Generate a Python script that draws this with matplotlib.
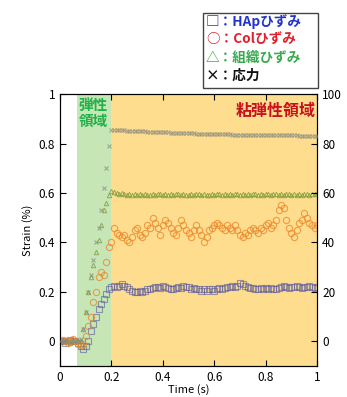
import matplotlib
matplotlib.use("Agg")
import matplotlib.pyplot as plt
from matplotlib.patches import Rectangle

plt.rcParams['font.family'] = ['Noto Sans CJK JP', 'DejaVu Sans']

# sample times (s)
time = [0.00, 0.01, 0.02, 0.03, 0.04, 0.05, 0.06, 0.07, 0.08, 0.09,
        0.10, 0.11, 0.12, 0.13, 0.14, 0.15, 0.16, 0.17, 0.18, 0.19,
        0.20, 0.21, 0.22, 0.23, 0.24, 0.25, 0.26, 0.27, 0.28, 0.29,
        0.30, 0.31, 0.32, 0.33, 0.34, 0.35, 0.36, 0.37, 0.38, 0.39,
        0.40, 0.41, 0.42, 0.43, 0.44, 0.45, 0.46, 0.47, 0.48, 0.49,
        0.50, 0.51, 0.52, 0.53, 0.54, 0.55, 0.56, 0.57, 0.58, 0.59,
        0.60, 0.61, 0.62, 0.63, 0.64, 0.65, 0.66, 0.67, 0.68, 0.69,
        0.70, 0.71, 0.72, 0.73, 0.74, 0.75, 0.76, 0.77, 0.78, 0.79,
        0.80, 0.81, 0.82, 0.83, 0.84, 0.85, 0.86, 0.87, 0.88, 0.89,
        0.90, 0.91, 0.92, 0.93, 0.94, 0.95, 0.96, 0.97, 0.98, 0.99,
        1.00]

# HAp strain (%)
hap_strain = [0.0, 0.0, -0.005, 0.0, 0.005, 0.0, 0.0, -0.005, -0.02, -0.03,
              -0.02, 0.0, 0.04, 0.07, 0.10, 0.13, 0.15, 0.17, 0.19, 0.21,
              0.22, 0.225, 0.22, 0.225, 0.23, 0.225, 0.22, 0.21, 0.205, 0.20,
              0.20, 0.205, 0.20, 0.205, 0.21, 0.21, 0.215, 0.22, 0.22, 0.215,
              0.225, 0.22, 0.215, 0.21, 0.21, 0.215, 0.22, 0.215, 0.225, 0.22,
              0.22, 0.21, 0.215, 0.21, 0.21, 0.205, 0.21, 0.205, 0.21, 0.21,
              0.205, 0.21, 0.215, 0.21, 0.215, 0.22, 0.22, 0.225, 0.22, 0.225,
              0.235, 0.23, 0.225, 0.22, 0.215, 0.215, 0.21, 0.21, 0.215, 0.21,
              0.215, 0.21, 0.215, 0.21, 0.21, 0.215, 0.22, 0.225, 0.22, 0.215,
              0.22, 0.22, 0.225, 0.22, 0.215, 0.22, 0.22, 0.225, 0.22, 0.215,
              0.22]

# Col strain (%)
col_strain = [0.0, 0.005, 0.0, -0.005, 0.0, 0.01, 0.0, -0.01, -0.015, -0.01,
              0.02, 0.06, 0.10, 0.16, 0.20, 0.26, 0.28, 0.27, 0.32, 0.38,
              0.40, 0.46, 0.44, 0.43, 0.42, 0.43, 0.41, 0.40, 0.42, 0.45,
              0.46, 0.43, 0.42, 0.44, 0.47, 0.46, 0.50, 0.48, 0.46, 0.43,
              0.47, 0.49, 0.48, 0.46, 0.44, 0.43, 0.46, 0.49, 0.47, 0.45,
              0.44, 0.42, 0.45, 0.47, 0.45, 0.43, 0.40, 0.42, 0.45, 0.46,
              0.47, 0.48, 0.47, 0.46, 0.45, 0.47, 0.46, 0.45, 0.47, 0.45,
              0.43, 0.42, 0.44, 0.43, 0.45, 0.46, 0.45, 0.44, 0.46, 0.45,
              0.47, 0.48, 0.46, 0.47, 0.49, 0.53, 0.55, 0.54, 0.49, 0.46,
              0.44, 0.42, 0.45, 0.48, 0.49, 0.52, 0.50, 0.48, 0.47, 0.46,
              0.47]

# tissue strain (%)
tissue_strain = [0.0, 0.0, 0.005, 0.0, -0.005, 0.0, 0.005, 0.0, 0.0, 0.05,
                 0.12, 0.20, 0.26, 0.31, 0.36, 0.41, 0.47, 0.53, 0.56, 0.59,
                 0.61, 0.605, 0.60, 0.595, 0.60, 0.595, 0.59, 0.595, 0.59, 0.595,
                 0.59, 0.595, 0.59, 0.595, 0.59, 0.59, 0.595, 0.59, 0.595, 0.595,
                 0.59, 0.595, 0.59, 0.595, 0.59, 0.595, 0.595, 0.59, 0.595, 0.59,
                 0.59, 0.595, 0.59, 0.595, 0.595, 0.59, 0.595, 0.59, 0.59, 0.595,
                 0.59, 0.595, 0.595, 0.59, 0.595, 0.59, 0.595, 0.59, 0.595, 0.595,
                 0.59, 0.595, 0.59, 0.595, 0.59, 0.595, 0.595, 0.59, 0.595, 0.59,
                 0.595, 0.595, 0.59, 0.595, 0.595, 0.59, 0.595, 0.59, 0.595, 0.595,
                 0.59, 0.595, 0.59, 0.595, 0.59, 0.595, 0.595, 0.59, 0.595, 0.595,
                 0.60]

# stress (right axis)
stress = [0.0, 0.0, 0.0, 0.0, 0.0, 0.0, 0.0, 0.0, 1.0, 5.0,
          12.0, 20.0, 27.0, 33.0, 40.0, 46.0, 53.0, 62.0, 70.0, 79.0,
          85.5, 85.5, 85.4, 85.4, 85.3, 85.3, 85.2, 85.2, 85.1, 85.1,
          85.0, 85.0, 84.9, 84.9, 84.8, 84.8, 84.7, 84.7, 84.6, 84.6,
          84.5, 84.5, 84.5, 84.4, 84.4, 84.3, 84.3, 84.3, 84.2, 84.2,
          84.1, 84.1, 84.1, 84.0, 84.0, 84.0, 83.9, 83.9, 83.9, 83.8,
          83.8, 83.8, 83.8, 83.7, 83.7, 83.7, 83.7, 83.6, 83.6, 83.6,
          83.6, 83.5, 83.5, 83.5, 83.5, 83.5, 83.5, 83.4, 83.4, 83.4,
          83.4, 83.4, 83.4, 83.4, 83.3, 83.3, 83.3, 83.3, 83.3, 83.3,
          83.3, 83.3, 83.3, 83.2, 83.2, 83.2, 83.2, 83.2, 83.2, 83.2,
          83.2]

fig = plt.figure(figsize=(3.47, 3.97), dpi=100)
ax = fig.add_axes([0.173, 0.078, 0.741, 0.685])

# regions
ax.axvspan(0.065, 0.2, color='#c6e6b6', lw=0, zorder=0)
ax.axvspan(0.2, 1.0, color='#fedd8e', lw=0, zorder=0)

ax.plot(time, hap_strain, 's', mfc='none', mec='#5a5aa0', ms=4, mew=0.8, alpha=0.6, zorder=3)
ax.plot(time, col_strain, 'o', mfc='none', mec='#ec8a2e', ms=4.5, mew=0.8, alpha=0.8, zorder=3)
ax.plot(time, tissue_strain, '^', mfc='none', mec='#7f9a3c', ms=3.2, mew=0.7, alpha=0.8, zorder=3)

ax.set_xlim(0, 1)
ax.set_ylim(-0.1, 1)
ax.set_xticks([0, 0.2, 0.4, 0.6, 0.8, 1])
ax.set_xticklabels(['0', '0.2', '0.4', '0.6', '0.8', '1'])
ax.set_yticks([0, 0.2, 0.4, 0.6, 0.8, 1])
ax.set_yticklabels(['0', '0.2', '0.4', '0.6', '0.8', '1'])
ax.tick_params(direction='in', length=4, top=True, right=False, labelsize=8.5)
ax.set_xlabel('Time (s)', fontsize=8, labelpad=0)
ax.set_ylabel('Strain (%)', fontsize=8)

ax2 = ax.twinx()
ax2.plot(time, stress, 'x', color='#8c8a80', ms=3.5, mew=0.8, alpha=0.7, zorder=3)
ax2.set_ylim(-10, 100)
ax2.set_yticks([0, 20, 40, 60, 80, 100])
ax2.tick_params(direction='in', length=4, labelsize=8.5)

ax.text(0.072, 0.99, '弾性\n領域', color='#22b04a', fontsize=10.5, fontweight='bold',
        va='top', ha='left', linespacing=1.05, zorder=5)
ax.text(0.995, 0.965, '粘弾性領域', color='#c8101e', fontsize=11.5, fontweight='bold',
        va='top', ha='right', zorder=5)

# legend box drawn as text
fig.patches.append(Rectangle((203 / 347, 1 - 88 / 397), 115 / 347, 75 / 397,
                             transform=fig.transFigure, fill=False, ec='#444444', lw=1))
legend_rows = [('□：HApひずみ', '#2233cc'), ('○：Colひずみ', '#e0202a'),
               ('△：組織ひずみ', '#3aaa50'), ('×：応力', '#111111')]
for i, (label, c) in enumerate(legend_rows):
    fig.text(206 / 347, 1 - (22 + i * 18) / 397, label, color=c, fontsize=9.8,
             fontweight='bold', va='center', ha='left')

fig.savefig('out.png', dpi=100)
